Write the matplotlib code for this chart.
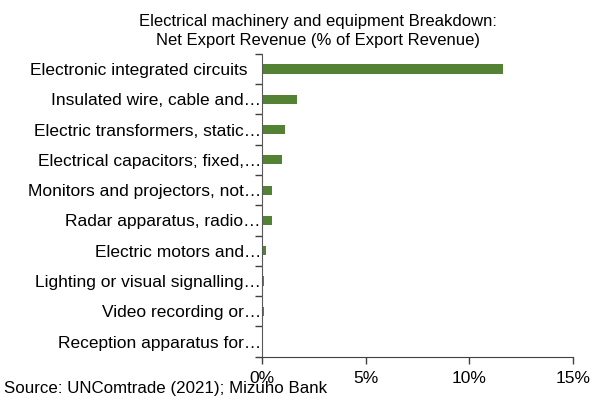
import matplotlib
matplotlib.use("Agg")
import matplotlib.pyplot as plt
import matplotlib.transforms as mtransforms
import numpy as np

plt.rcParams['font.family'] = ['Liberation Sans', 'DejaVu Sans']

# Categories top to bottom and net export revenue (% of export revenue)
categories = [
    "Electronic integrated circuits",
    "Insulated wire, cable and\u2026",
    "Electric transformers, static\u2026",
    "Electrical capacitors; fixed,\u2026",
    "Monitors and projectors, not\u2026",
    "Radar apparatus, radio\u2026",
    "Electric motors and\u2026",
    "Lighting or visual signalling\u2026",
    "Video recording or\u2026",
    "Reception apparatus for\u2026",
]
values = [11.6, 1.70, 1.11, 0.99, 0.50, 0.47, 0.18, 0.08, 0.08, 0.02]
xticks = [0, 5, 10, 15]

fig = plt.figure(figsize=(6.02, 3.99), dpi=100)
ax = fig.add_axes([0.435, 0.106, 0.517, 0.759])

n = len(categories)
ypos = np.arange(n)[::-1]
ax.barh(ypos, values, height=0.3, color="#548235")

ax.set_xlim(0, 15)
ax.set_ylim(-0.5, n - 0.5)
ax.set_xticks(xticks)
ax.set_xticklabels([f"{t}%" for t in xticks], fontsize=12.5)
ax.set_yticks(ypos)
ax.set_yticklabels(categories, fontsize=12.5)
ax.tick_params(axis='y', length=0, pad=10)
# boundary ticks between categories
ax.set_yticks(np.arange(-0.5, n, 1.0), minor=True)
ax.tick_params(axis='y', which='minor', length=5, width=1, color="#404040")
ax.tick_params(axis='x', length=5, width=1, color="#404040", pad=5)

# truncated labels run their ellipsis right up to the axis
shift = mtransforms.ScaledTranslation(0.13, 0, fig.dpi_scale_trans)
for lab in ax.get_yticklabels():
    if lab.get_text().endswith("\u2026"):
        lab.set_transform(lab.get_transform() + shift)

for s in ['top', 'right']:
    ax.spines[s].set_visible(False)
ax.spines['left'].set_color("#595959")
ax.spines['bottom'].set_color("#404040")

fig.text(0.528, 0.922, "Electrical machinery and equipment Breakdown:\nNet Export Revenue (% of Export Revenue)",
         ha='center', va='center', fontsize=12, linespacing=1.35)
fig.text(0.007, 0.027, "Source: UNComtrade (2021); Mizuho Bank", ha='left', va='center', fontsize=12.2)

fig.savefig("out.png", dpi=100)
